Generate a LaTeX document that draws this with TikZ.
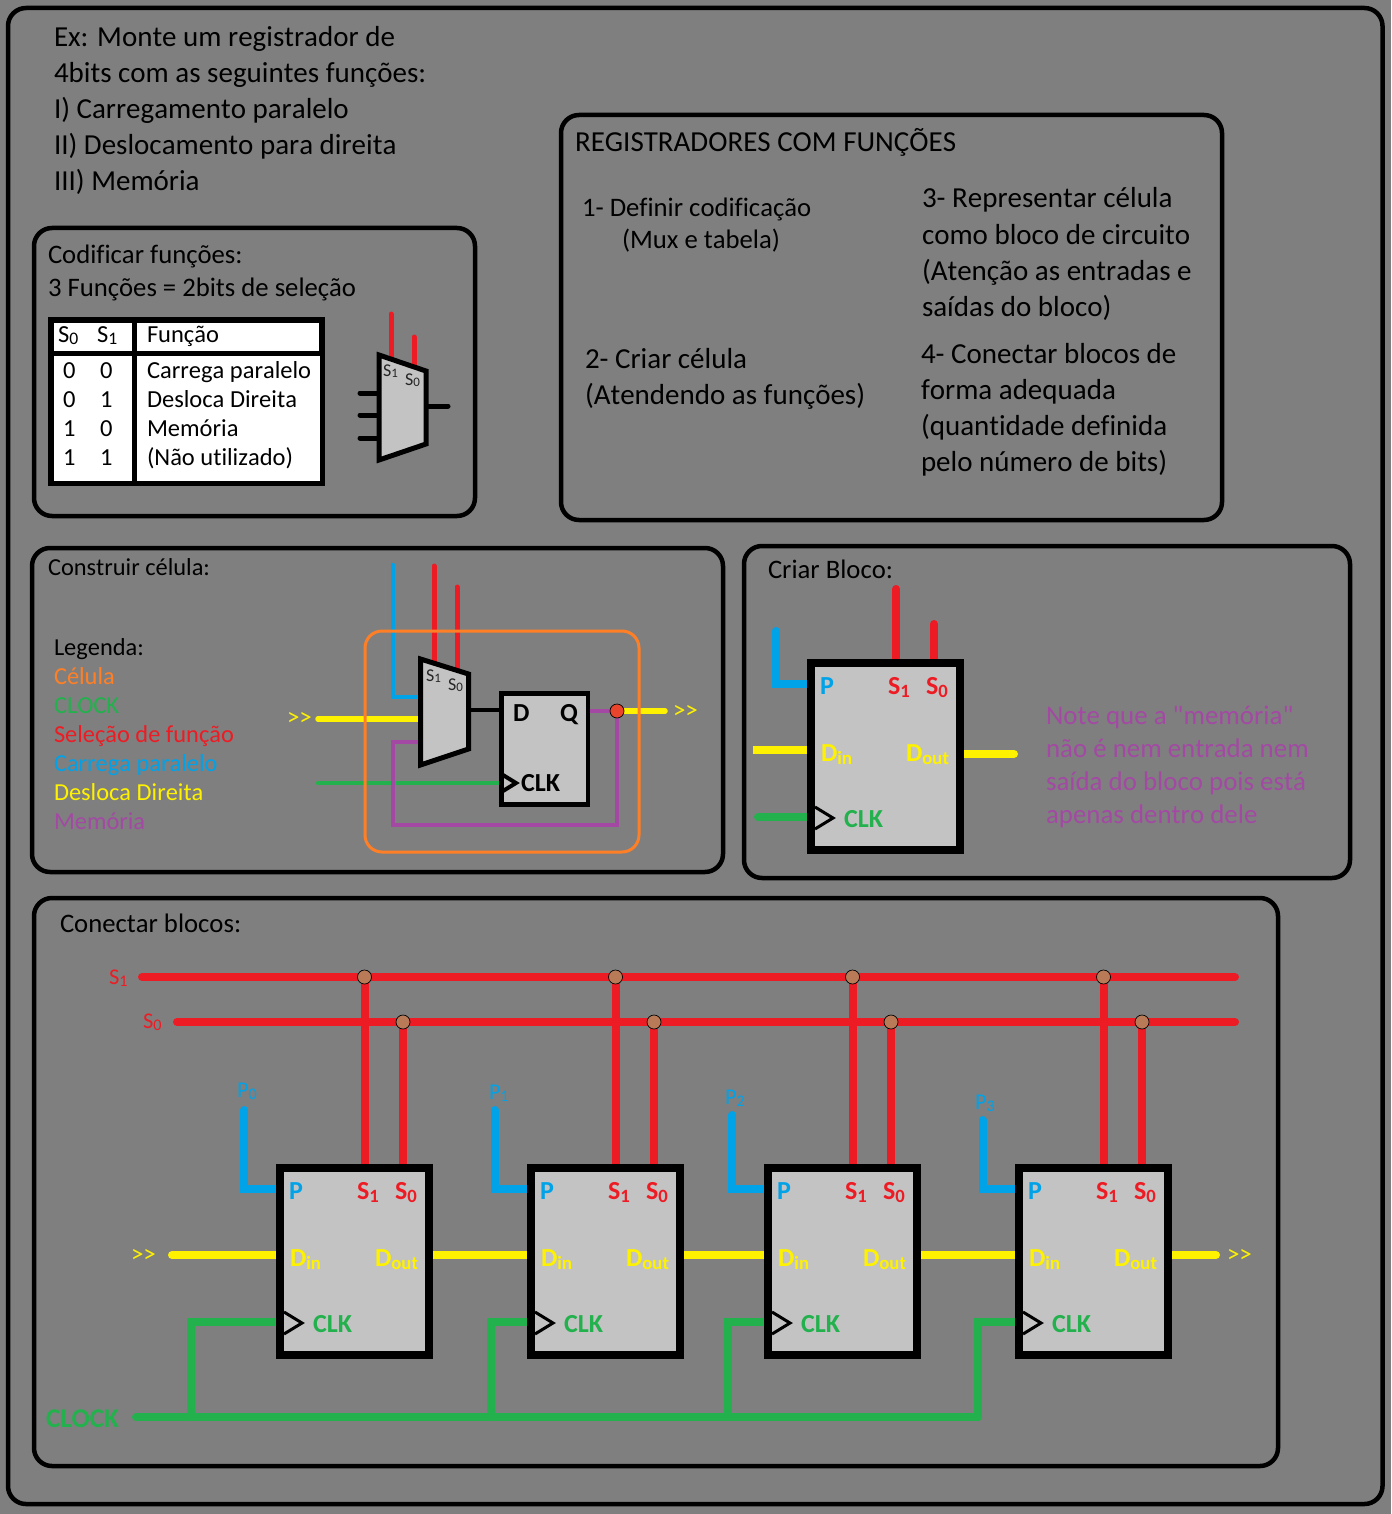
\documentclass[tikz,border=0pt]{standalone}
\usepackage{fontspec}
\defaultfontfeatures[\rmfamily]{}
\setmainfont{Carlito}[Kerning=Off,RawFeature={-liga;-clig;-calt}]
\usetikzlibrary{backgrounds,calc}
\definecolor{bgg}{HTML}{7F7F7F}
\definecolor{lgt}{HTML}{C3C3C3}
\definecolor{rd}{HTML}{ED1C24}
\definecolor{bl}{HTML}{00A2E8}
\definecolor{yl}{HTML}{FFF200}
\definecolor{gr}{HTML}{22B14C}
\definecolor{pu}{HTML}{A349A4}
\definecolor{og}{HTML}{FF7F27}
\definecolor{br}{HTML}{B97A57}
\definecolor{dotr}{HTML}{E8452C}
\newcommand\sbx[1]{\raisebox{-0.1em}{\scalebox{0.72}{#1}}}
\newcommand\sbb[1]{\raisebox{-0.15em}{\scalebox{0.72}{#1}}}
\newcommand\rsh{>{}>}
\tikzset{
  frame/.style={draw=black,line width=4.5pt,rounded corners=18pt},
  txt/.style={inner sep=0pt,outer sep=0pt,anchor=base west,text=black,font=\fontsize{29}{34}\selectfont},
  big/.style={txt,yshift=-1pt},
  note/.style={txt,font=\fontsize{26.9}{32}\selectfont},
  mid/.style={txt,font=\fontsize{26.7}{32}\selectfont},
  sml/.style={txt,font=\fontsize{24.5}{29}\selectfont},
  leg/.style={txt,font=\fontsize{24.4}{29}\selectfont},
  tag/.style={txt,font=\fontsize{22.5}{26}\selectfont},
  shft/.style={txt,font=\fontsize{25}{29}\selectfont,text=yl},
  blabel/.style={txt,font=\bfseries\fontsize{26}{30}\selectfont},
  tiny/.style={txt,font=\fontsize{18}{21}\selectfont,text=black!85},
  wire/.style={line width=#1,line cap=round,line join=miter},
  wire/.default=8pt,
  box/.style={draw=black,fill=lgt,line width=8pt,minimum width=149pt,minimum height=187pt,inner sep=0pt},
  ffbox/.style={draw=black,fill=lgt,line width=4.5pt,minimum width=86.5pt,minimum height=111pt,inner sep=0pt},
  muxbody/.style={draw=black,fill=lgt,line join=miter},
  ckt/.style={draw=black,line width=3pt,line join=miter},
  jn/.style={circle,draw=black,fill=br,line width=.7pt,minimum size=14pt,inner sep=0pt},
  jr/.style={jn,fill=dotr},
}
% block body: outer box at x 276-433, y 1164-1359, shifted by the scope
\newcommand\blockbody[1]{%
  \node[box] (#1) at (354.5,1261.5) {};
  \coordinate (#1ca) at (284,1312);
  \coordinate (#1cb) at (302,1323);
  \coordinate (#1cc) at (284,1334);
  \draw[ckt] (#1ca) -- (#1cb) -- (#1cc);
  \node[blabel,text=bl] (#1P) at (289,1199) {P};
  \node[blabel,text=rd] (#1S1) at (357,1199) {S\sbb{1}};
  \node[blabel,text=rd] (#1S0) at (395,1199) {S\sbb{0}};
  \node[blabel,text=yl] (#1Di) at (290,1266) {D\sbb{in}};
  \node[blabel,text=yl] (#1Do) at (375,1266) {D\sbb{out}};
  \node[blabel,text=gr] (#1C) at (313,1332) {CLK};
}
\begin{document}
\begin{tikzpicture}[x=1pt,y=-1pt]
\useasboundingbox (0,0) rectangle (1391,1514);
\begin{scope}[on background layer]
\fill[bgg] (0,0) rectangle (1391,1514);
\end{scope}
% frames
\draw[frame] (8,8) rectangle (1382.5,1504);
\draw[frame] (34,228) rectangle (475,516);
\draw[frame] (561,115) rectangle (1222,520);
\draw[frame] (32,548) rectangle (723,872);
\draw[frame] (744,546) rectangle (1350,878);
\draw[frame] (34,898) rectangle (1278,1466);
% statement
\node[big] (ex1) at (54,46) {Ex: Monte um registrador de};
\node[big] (ex2) at (54,82) {4bits com as seguintes funções:};
\node[big] (ex3) at (54,118) {I) Carregamento paralelo};
\node[big] (ex4) at (54,154) {II) Deslocamento para direita};
\node[big] (ex5) at (54,190) {III) Memória};
% steps
\node[big] (st0) at (575,151) {REGISTRADORES COM FUNÇÕES};
\node[mid] (st1a) at (582,217) {1- Definir codificação};
\node[mid] (st1b) at (622,248) {(Mux e tabela)};
\node[big] (st2a) at (585,367) {2- Criar célula};
\node[big] (st2b) at (585,403) {(Atendendo as funções)};
\node[big] (st3a) at (922,207) {3- Representar célula};
\node[big] (st3b) at (922,243) {como bloco de circuito};
\node[big] (st3c) at (922,279) {(Atenção as entradas e};
\node[big] (st3d) at (922,315) {saídas do bloco)};
\node[big] (st4a) at (921,362) {4- Conectar blocos de};
\node[big] (st4b) at (921,398) {forma adequada};
\node[big] (st4c) at (921,434) {(quantidade definida};
\node[big] (st4d) at (921,470) {pelo número de bits)};
% coding box
\node[mid] (cod1) at (48,263) {Codificar funções:};
\node[mid] (cod2) at (48,296) {3 Funções = 2bits de seleção};
\fill[black] (48,317) rectangle (325,486);
\fill[white] (54,323) rectangle (132,351);
\fill[white] (137,323) rectangle (319,351);
\fill[white] (54,356) rectangle (132,481);
\fill[white] (137,356) rectangle (320,481);
\node[sml] (h1) at (58,342) {S\sbx{0}};
\node[sml] (h2) at (97,342) {S\sbx{1}};
\node[sml] (h3) at (147,342) {Função};
\node[sml] (r1a) at (63,378) {0};
\node[sml] (r1b) at (100,378) {0};
\node[sml] (r1c) at (147,378) {Carrega paralelo};
\node[sml] (r2a) at (63,407) {0};
\node[sml] (r2b) at (100,407) {1};
\node[sml] (r2c) at (147,407) {Desloca Direita};
\node[sml] (r3a) at (63,436) {1};
\node[sml] (r3b) at (100,436) {0};
\node[sml] (r3c) at (147,436) {Memória};
\node[sml] (r4a) at (63,465) {1};
\node[sml] (r4b) at (100,465) {1};
\node[sml] (r4c) at (147,465) {(Não utilizado)};
% small mux
\coordinate (ma) at (379,355);
\coordinate (mb) at (426,371);
\coordinate (mc) at (426,444);
\coordinate (md) at (379,460);
\draw[wire=5pt,rd] (391,314) -- (391,358);
\draw[wire=5pt,rd] (414,337) -- (414,366);
\foreach \y in {393,415,438} \draw[wire=5pt,black] (360,\y) -- (379,\y);
\draw[wire=5pt,black] (426,406) -- (448,406);
\draw[muxbody,line width=5pt] (ma) -- (mb) -- (mc) -- (md) -- cycle;
\node[tiny] (ms1) at (383,376) {S\sbx{1}};
\node[tiny] (ms0) at (405,385) {S\sbx{0}};
% cell box
\node[leg] (cc) at (48,575) {Construir célula:};
\node[leg,yshift=-1pt] (leg0) at (54,654) {Legenda:};
\node[leg,yshift=-1pt,text=og] (leg1) at (54,683) {Célula};
\node[leg,yshift=-1pt,text=gr] (leg2) at (54,712) {CLOCK};
\node[leg,yshift=-1pt,text=rd] (leg3) at (54,741) {Seleção de função};
\node[leg,yshift=-1pt,text=bl] (leg4) at (54,770) {Carrega paralelo};
\node[leg,yshift=-1pt,text=yl] (leg5) at (54,799) {Desloca Direita};
\node[leg,yshift=-1pt,text=pu] (leg6) at (54,828) {Memória};
\coordinate (ca) at (420.5,659);
\coordinate (cb) at (468.5,674);
\coordinate (cc2) at (468.5,749);
\coordinate (cd) at (420.5,765);
\draw[muxbody,line width=5pt] (ca) -- (cb) -- (cc2) -- (cd) -- cycle;
\node[ffbox] (ff) at (544.5,749) {};
\node[blabel,text=black] (ffd) at (513,721) {D};
\node[blabel,text=black] (ffq) at (560,721) {Q};
\node[blabel,text=black] (ffc) at (521,791) {CLK};
\coordinate (fa) at (503,775);
\coordinate (fb) at (516,783);
\coordinate (fc) at (503,791);
\draw[black,line width=4pt,line join=miter] (fa) -- (fb) -- (fc);
\node[tiny] (cs1) at (426,681) {S\sbx{1}};
\node[tiny] (cs0) at (448,690) {S\sbx{0}};
\coordinate (cPt) at (393,565);
\coordinate (cPm) at (420,697);
\coordinate (cS1) at (434,566);
\coordinate (cS1b) at (434,662);
\coordinate (cS0) at (457,587);
\coordinate (cS0b) at (457,668);
\coordinate (cYa) at (318,719);
\coordinate (cYb) at (420,719);
\coordinate (cGa) at (318,783);
\coordinate (cMa) at (420,742);
\coordinate (cMb) at (393,825);
\coordinate (cOut) at (665,711);
\coordinate (cDa) at (468.5,710);
\node[jr] (cdot) at (617,711) {};
\begin{scope}[on background layer]
\draw[wire=4.5pt,bl] (cPt) |- (cPm);
\draw[wire=5pt,rd] (cS1) -- (cS1b);
\draw[wire=5pt,rd] (cS0) -- (cS0b);
\draw[wire=5.5pt,yl] (cYa) -- (cYb);
\draw[wire=4.5pt,gr] (cGa) -- (cGa -| ff.west);
\draw[wire=4.5pt,pu] (cMa) -| (cMb) -| (cdot.center) -- (cdot.center -| ff.east);
\draw[wire=5.5pt,yl] (cdot.center) -- (cOut);
\draw[line width=4.5pt,black] (cDa) -- (cDa -| ff.west);
\end{scope}
\draw[og,line width=3pt,rounded corners=17pt] (365,631) rectangle (639,852);
\node[shft] (cin) at (287,725) {\rsh};
\node[shft] (cout) at (673,718) {\rsh};
% block box
\node[mid] (cb0) at (768,578) {Criar Bloco:};
\begin{scope}[shift={(531,-505)}]
\blockbody{B}
\end{scope}
\coordinate (bP) at (775.5,631);
\coordinate (bPm) at (790,684);
\coordinate (bS1) at (896,589);
\coordinate (bS0) at (934,624);
\coordinate (bYa) at (753,750);
\coordinate (bYb) at (1014,754);
\coordinate (bGa) at (758,817);
\begin{scope}[on background layer]
\draw[wire,bl] (bP) |- (bPm -| B.west);
\draw[wire,rd] (bS1) -- (bS1 |- B.north);
\draw[wire,rd] (bS0) -- (bS0 |- B.north);
\draw[wire,yl,line cap=butt] (bYa) -- (bYa -| B.west);
\draw[wire,yl] (bYb) -- (bYb -| B.east);
\draw[wire,gr] (bGa) -- (bGa -| B.west);
\end{scope}
\node[note,text=pu] (n1) at (1046,724) {Note que a "memória"};
\node[note,text=pu] (n2) at (1046,757) {não é nem entrada nem};
\node[note,text=pu] (n3) at (1046,790) {saída do bloco pois está};
\node[note,text=pu] (n4) at (1046,823) {apenas dentro dele};
% connect box
\node[mid] (cn) at (60,932) {Conectar blocos:};
\node[tag,text=rd] (lS1) at (109,984) {S\sbx{1}};
\node[tag,text=rd] (lS0) at (143,1028) {S\sbx{0}};
\node[txt,font=\bfseries\fontsize{27}{31}\selectfont,text=gr] (lCk) at (46,1427) {CLOCK};
\node[shft] (lIn) at (131,1262) {\rsh};
\node[shft] (lOut) at (1227,1262) {\rsh};
\coordinate (bus1a) at (142,977);
\coordinate (bus1b) at (1235,977);
\coordinate (bus0a) at (177,1022);
\coordinate (bus0b) at (1235,1022);
\coordinate (ckA) at (136,1417);
\coordinate (ckB) at (978,1417);
\coordinate (yA) at (172,1255);
\coordinate (yB) at (1216,1255);
\coordinate (pm) at (0,1189);
\foreach \i/\d/\pt/\lx/\ly/\ck in {0/0/1110/237/1097/191,1/251/1110/489/1099/491,2/488/1115/725/1104/728,3/739/1120/975/1109/978}{
  \begin{scope}[shift={(\d,0)}]
  \blockbody{K\i}
  \node[jn] (ja\i) at (364.5,977) {};
  \node[jn] (jb\i) at (403,1022) {};
  \coordinate (p\i) at (244,\pt);
  \end{scope}
  \node[tag,text=bl] (lP\i) at (\lx,\ly) {P\sbx{\i}};
  \coordinate (ct\i) at (\ck,1322);
  \coordinate (cf\i) at (\ck,1417);
}
\begin{scope}[on background layer]
\draw[wire,rd] (bus1a) -- (bus1b);
\draw[wire,rd] (bus0a) -- (bus0b);
\draw[wire,gr] (ckA) -- (ckB);
\draw[wire,yl] (yA) -- (yA -| K0.west);
\draw[wire,yl] (yA -| K0.east) -- (yA -| K1.west);
\draw[wire,yl] (yA -| K1.east) -- (yA -| K2.west);
\draw[wire,yl] (yA -| K2.east) -- (yA -| K3.west);
\draw[wire,yl] (yA -| K3.east) -- (yB);
\foreach \i in {0,1,2,3}{
  \draw[wire,rd] (ja\i.center) -- (ja\i.center |- K\i.north);
  \draw[wire,rd] (jb\i.center) -- (jb\i.center |- K\i.north);
  \draw[wire,bl] (p\i) |- (pm -| K\i.west);
  \draw[wire,gr] (cf\i) -- (ct\i) -- (ct\i -| K\i.west);
}
\end{scope}
\end{tikzpicture}
\end{document}
